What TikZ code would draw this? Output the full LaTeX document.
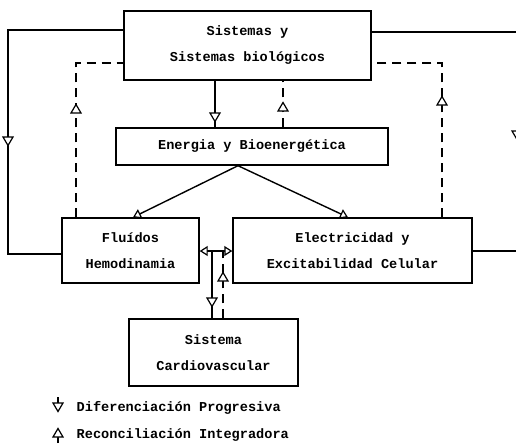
\documentclass[tikz,border=0pt]{standalone}
\usepackage{fontspec}
\setmonofont{Liberation Mono}
\usetikzlibrary{arrows.meta}
\begin{document}
\begin{tikzpicture}[x=1pt,y=-1pt,
  line width=1.4pt,
  box/.style={draw,rectangle,inner sep=0pt,align=center,
    font=\ttfamily\bfseries\fontsize{13.6}{26}\selectfont},
  dsh/.style={dash pattern=on 9pt off 6pt},
  tip/.style={-{Triangle[fill=white,width=10pt,length=8pt,line width=1.2pt]}},
  tips/.style={{Triangle[fill=white,width=10pt,length=8pt,line width=1.2pt]}-{Triangle[fill=white,width=10pt,length=8pt,line width=1.2pt]}},
  triU/.pic={\draw[solid,fill=white,line width=1.2pt] (0,-4.5)--(5,4)--(-5,4)--cycle;},
  triD/.pic={\draw[solid,fill=white,line width=1.2pt] (0,4.5)--(5,-4)--(-5,-4)--cycle;},
  legtxt/.style={anchor=west,inner sep=0pt,font=\ttfamily\bfseries\fontsize{13.6}{16}\selectfont}
]
\useasboundingbox (0,0) rectangle (516,444);
% boxes
\node[box,minimum width=247pt,minimum height=69pt] (sis) at (247.5,45.5) {Sistemas y\\Sistemas biológicos};
\node[box,minimum width=272pt,minimum height=37pt] (ene) at (252,146.5) {Energia y Bioenergética};
\node[box,minimum width=137pt,minimum height=65pt] (flu) at (130.5,250.5) {Fluídos\\Hemodinamia};
\node[box,minimum width=239pt,minimum height=65pt] (ele) at (352.5,250.5) {Electricidad y\\Excitabilidad Celular};
\node[box,minimum width=169pt,minimum height=67pt] (car) at (213.5,352.5) {Sistema\\Cardiovascular};
% helper coordinates
\coordinate (L1) at (8,30);
\coordinate (L2) at (8,254);
\coordinate (R1) at (521,32);
\coordinate (R2) at (521,251);
\coordinate (DL) at (76,63);
\coordinate (DR) at (442,63);
\coordinate (J) at (212,251);
% outer solid loops
\draw (sis.west |- L1) -- (L1) -- (L2) -- (flu.west |- L2);
\pic at (8,141) {triD};
\draw (sis.east |- R1) -- (R1) -- (R2) -- (ele.east |- R2);
\pic at (517,135) {triD};
% dashed loops
\draw[dsh] (flu.north -| DL) -- (DL) -- (sis.west |- DL);
\pic at (76,109) {triU};
\draw[dsh] (ele.north -| DR) -- (DR) -- (sis.east |- DR);
\pic at (442,101) {triU};
% sis <-> ene
\draw (sis.south -| 215,0) -- (ene.north -| 215,0);
\pic at (215,117) {triD};
\draw[dsh] (ene.north -| 283,0) -- (sis.south -| 283,0);
\pic at (283,107) {triU};
% ene -> flu, ele
\draw[tip] (ene.south -| 238,0) -- (flu.north -| 133,0);
\draw[tip] (ene.south -| 238,0) -- (ele.north -| 348,0);
% flu <-> ele
\draw[tips] (flu.east |- J) -- (ele.west |- J);
% junction <-> car
\draw (J) -- (car.north -| J);
\pic at (212,302) {triD};
\draw[dsh] (car.north -| 223,0) -- (223,251);
\pic at (223,277) {triU};
% legend
\coordinate (lg1) at (58,397);
\coordinate (lg2) at (58,443);
\draw (lg1) -- (58,404);
\pic at (58,407) {triD};
\node[legtxt] (l1) at (76,408) {Diferenciación Progresiva};
\draw (lg2) -- (58,436);
\pic at (58,433) {triU};
\node[legtxt] (l2) at (76,435) {Reconciliación Integradora};
\end{tikzpicture}
\end{document}
